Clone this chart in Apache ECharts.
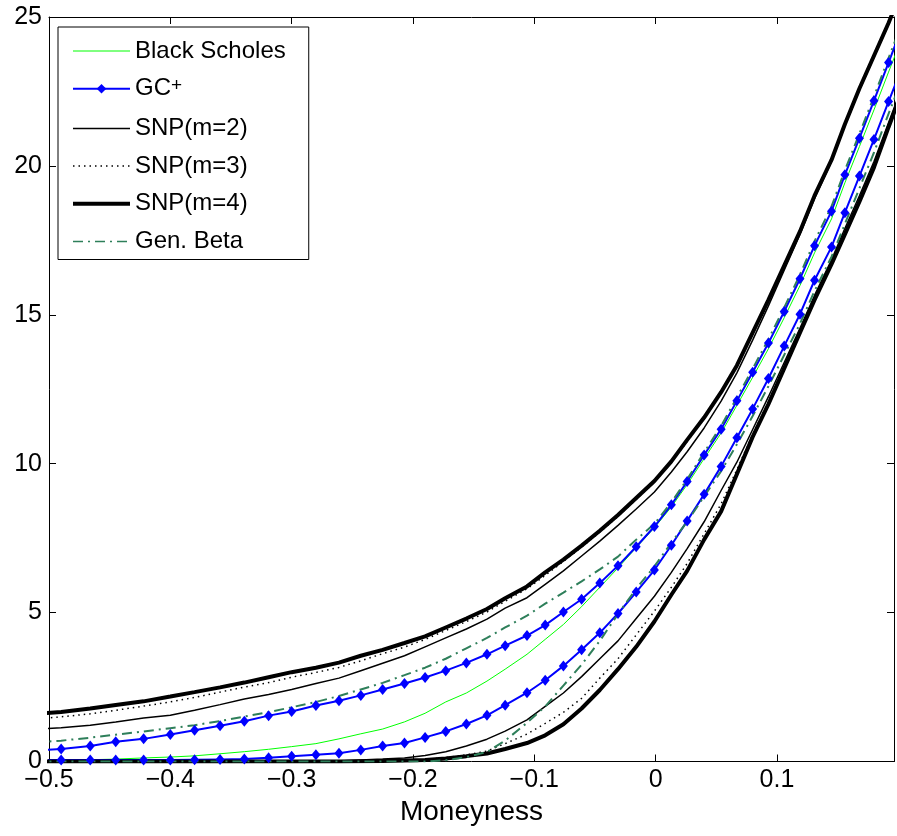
<!DOCTYPE html>
<html><head><meta charset="utf-8">
<script src="https://cdn.jsdelivr.net/npm/echarts@6/dist/echarts.min.js"></script>
<style>html,body{margin:0;padding:0;background:#fff}#c{width:897px;height:836px}</style>
</head><body><div id="c"></div>
<script>
// Moneyness grid (read from the GC+ marker positions)
const moneyness = [-0.512, -0.490, -0.466, -0.445, -0.422, -0.400, -0.380, -0.359, -0.339, -0.319, -0.300, -0.280, -0.261, -0.243, -0.225, -0.207, -0.190, -0.173, -0.156, -0.139, -0.124, -0.106, -0.091, -0.076, -0.061, -0.046, -0.031, -0.016, -0.001, 0.013, 0.026, 0.040, 0.054, 0.067, 0.080, 0.093, 0.106, 0.119, 0.131, 0.145, 0.156, 0.168, 0.180, 0.192, 0.204];

const blackScholes = [0.04, 0.05, 0.06, 0.08, 0.12, 0.15, 0.19, 0.26, 0.33, 0.41, 0.50, 0.60, 0.76, 0.93, 1.09, 1.33, 1.62, 2.00, 2.30, 2.70, 3.10, 3.60, 4.10, 4.60, 5.20, 5.85, 6.50, 7.18, 7.85, 8.55, 9.30, 10.17, 11.03, 11.96, 12.90, 13.86, 14.90, 15.98, 17.08, 18.22, 19.43, 20.65, 21.88, 23.15, 24.40];

const gcUpper = [0.37, 0.42, 0.52, 0.66, 0.76, 0.91, 1.05, 1.20, 1.35, 1.54, 1.68, 1.88, 2.04, 2.22, 2.42, 2.62, 2.82, 3.05, 3.31, 3.60, 3.89, 4.23, 4.58, 5.02, 5.45, 5.99, 6.57, 7.21, 7.89, 8.62, 9.40, 10.29, 11.16, 12.11, 13.07, 14.05, 15.11, 16.21, 17.32, 18.48, 19.70, 20.93, 22.19, 23.47, 24.75];
const gcLower = [0.05, 0.05, 0.05, 0.05, 0.05, 0.05, 0.06, 0.07, 0.08, 0.13, 0.18, 0.23, 0.28, 0.39, 0.52, 0.62, 0.81, 1.01, 1.26, 1.55, 1.89, 2.31, 2.73, 3.21, 3.75, 4.32, 4.97, 5.69, 6.43, 7.26, 8.08, 8.97, 9.91, 10.87, 11.84, 12.86, 13.95, 15.02, 16.16, 17.28, 18.43, 19.66, 20.89, 22.16, 23.40];

const snp2Upper = [1.08, 1.13, 1.22, 1.33, 1.46, 1.55, 1.72, 1.91, 2.10, 2.25, 2.42, 2.62, 2.80, 3.05, 3.30, 3.55, 3.85, 4.15, 4.45, 4.78, 5.15, 5.50, 5.95, 6.40, 6.90, 7.40, 7.93, 8.48, 9.05, 9.72, 10.40, 11.20, 12.10, 13.05, 14.15, 15.30, 16.50, 17.70, 18.90, 20.15, 21.35, 22.55, 23.65, 24.75, 25.95];
const snp2Lower = [0, 0, 0, 0, 0, 0, 0, 0, 0, 0, 0, 0, 0.02, 0.05, 0.08, 0.12, 0.20, 0.33, 0.52, 0.75, 1.02, 1.40, 1.85, 2.30, 2.85, 3.45, 4.05, 4.80, 5.55, 6.35, 7.15, 8.05, 9.10, 10.05, 11.15, 12.25, 13.40, 14.55, 15.65, 16.85, 17.90, 19.00, 20.15, 21.45, 22.75];

const snp3Upper = [1.42, 1.50, 1.60, 1.72, 1.86, 2.00, 2.15, 2.33, 2.50, 2.65, 2.83, 2.99, 3.16, 3.38, 3.62, 3.84, 4.10, 4.40, 4.70, 5.02, 5.38, 5.80, 6.25, 6.72, 7.20, 7.70, 8.23, 8.80, 9.38, 10.05, 10.75, 11.52, 12.37, 13.27, 14.37, 15.47, 16.62, 17.78, 18.98, 20.18, 21.38, 22.58, 23.68, 24.78, 25.98];
const snp3Lower = [0, 0, 0, 0, 0, 0, 0, 0, 0, 0, 0, 0, 0, 0, 0, 0.02, 0.07, 0.13, 0.22, 0.35, 0.60, 0.92, 1.28, 1.65, 2.12, 2.80, 3.45, 4.25, 5.05, 5.85, 6.65, 7.65, 8.65, 9.80, 10.98, 12.08, 13.28, 14.45, 15.55, 16.75, 17.78, 18.88, 20.03, 21.35, 22.65];

const snp4Upper = [1.60, 1.66, 1.78, 1.90, 2.02, 2.18, 2.33, 2.49, 2.65, 2.83, 3.00, 3.15, 3.32, 3.55, 3.75, 3.98, 4.20, 4.50, 4.80, 5.12, 5.48, 5.88, 6.35, 6.78, 7.25, 7.75, 8.28, 8.85, 9.42, 10.08, 10.80, 11.55, 12.40, 13.30, 14.40, 15.50, 16.65, 17.80, 19.00, 20.20, 21.40, 22.60, 23.70, 24.80, 26.00];
const snp4Lower = [0, 0, 0, 0, 0, 0, 0, 0, 0, 0, 0, 0, 0, 0.01, 0.02, 0.03, 0.05, 0.10, 0.18, 0.27, 0.42, 0.62, 0.88, 1.25, 1.78, 2.40, 3.10, 3.85, 4.70, 5.60, 6.40, 7.45, 8.40, 9.65, 10.90, 12.00, 13.20, 14.40, 15.50, 16.70, 17.70, 18.80, 19.95, 21.30, 22.60];

const genBetaUpper = [0.64, 0.70, 0.80, 0.90, 1.01, 1.12, 1.22, 1.36, 1.51, 1.66, 1.82, 2.00, 2.20, 2.42, 2.64, 2.90, 3.15, 3.45, 3.80, 4.15, 4.50, 4.90, 5.30, 5.67, 6.05, 6.45, 6.88, 7.45, 7.98, 8.70, 9.48, 10.38, 11.27, 12.22, 13.19, 14.18, 15.24, 16.35, 17.47, 18.64, 19.85, 21.08, 22.33, 23.62, 24.90];
const genBetaLower = [0, 0, 0, 0, 0, 0, 0, 0, 0, 0, 0, 0, 0, 0, 0, 0, 0, 0.04, 0.15, 0.32, 0.70, 1.30, 1.85, 2.55, 3.25, 4.05, 4.95, 5.80, 6.55, 7.35, 8.05, 8.90, 9.75, 10.65, 11.60, 12.60, 13.65, 14.70, 15.80, 16.95, 18.05, 19.25, 20.45, 21.75, 23.00];

const seriesNames = ['Black Scholes', 'GC+', 'SNP(m=2)', 'SNP(m=3)', 'SNP(m=4)', 'Gen. Beta'];
const xTicks = [-0.5, -0.4, -0.3, -0.2, -0.1, 0, 0.1];
const xTickLabels = ['\u22120.5', '\u22120.4', '\u22120.3', '\u22120.2', '\u22120.1', '0', '0.1'];
const yTicks = [0, 5, 10, 15, 20, 25];
const yTickLabels = ['0', '5', '10', '15', '20', '25'];
const xAxisTitle = 'Moneyness';

const FONT = '"Liberation Sans", Arial, Helvetica, sans-serif';
function pairs(ys) { return moneyness.map((x, i) => [x, ys[i]]); }
function xLabel(v) {
  for (let i = 0; i < xTicks.length; i++) if (Math.abs(v - xTicks[i]) < 1e-6) return xTickLabels[i];
  return '';
}
function yLabel(v) {
  for (let i = 0; i < yTicks.length; i++) if (Math.abs(v - yTicks[i]) < 1e-6) return yTickLabels[i];
  return '';
}

const styles = {
  'Black Scholes': { color: '#00ff00', width: 1, type: 'solid' },
  'GC+': { color: '#0000ff', width: 2, type: 'solid' },
  'SNP(m=2)': { color: '#000000', width: 1.5, type: 'solid' },
  'SNP(m=3)': { color: '#000000', width: 1.5, type: [1.5, 4] },
  'SNP(m=4)': { color: '#000000', width: 4, type: 'solid' },
  'Gen. Beta': { color: '#2e7f5a', width: 2, type: [10, 5, 2, 5] }
};
const dataSets = {
  'Black Scholes': [blackScholes],
  'GC+': [gcUpper, gcLower],
  'SNP(m=2)': [snp2Upper, snp2Lower],
  'SNP(m=3)': [snp3Upper, snp3Lower],
  'SNP(m=4)': [snp4Upper, snp4Lower],
  'Gen. Beta': [genBetaUpper, genBetaLower]
};

const series = [];
seriesNames.forEach(name => {
  const st = styles[name];
  dataSets[name].forEach(arr => {
    const isGC = name === 'GC+';
    series.push({
      name: name,
      type: 'line',
      data: pairs(arr),
      clip: true,
      smooth: false,
      symbol: isGC ? 'diamond' : 'none',
      symbolSize: isGC ? [9, 11] : 0,
      showSymbol: isGC,
      itemStyle: { color: st.color, borderWidth: 0 },
      lineStyle: { color: st.color, width: st.width, type: st.type, cap: 'butt' },
      emphasis: { disabled: true },
      animation: false
    });
  });
});

const legendData = seriesNames.map(n => {
  const st = styles[n];
  const item = { name: n, lineStyle: { color: st.color, width: n === 'SNP(m=4)' ? 4 : (n === 'Black Scholes' ? 1 : 1.5), type: st.type } };
  if (n !== 'GC+') item.itemStyle = { opacity: 0 };
  else item.lineStyle.width = 2;
  return item;
});

const axisLineStyle = { color: '#000', width: 1 };
const option = {
  animation: false,
  backgroundColor: '#ffffff',
  grid: { left: 49, right: 1, top: 17, bottom: 74.5, containLabel: false },
  xAxis: [
    {
      type: 'value', min: -0.5, max: 0.1965, interval: 0.1, position: 'bottom',
      axisLine: { show: true, onZero: false, lineStyle: axisLineStyle },
      axisTick: { show: true, inside: true, length: 7, lineStyle: axisLineStyle },
      splitLine: { show: false },
      axisLabel: { color: '#000', fontFamily: FONT, fontSize: 25, margin: 6, formatter: xLabel, showMaxLabel: true },
      name: xAxisTitle, nameLocation: 'middle', nameGap: 37,
      nameTextStyle: { color: '#000', fontFamily: FONT, fontSize: 28 }
    },
    {
      type: 'value', min: -0.5, max: 0.1965, interval: 0.1, position: 'top',
      axisLine: { show: true, onZero: false, lineStyle: axisLineStyle },
      axisTick: { show: true, inside: true, length: 7, lineStyle: axisLineStyle },
      splitLine: { show: false }, axisLabel: { show: false }
    }
  ],
  yAxis: [
    {
      type: 'value', min: 0, max: 25, interval: 5, position: 'left',
      axisLine: { show: true, onZero: false, lineStyle: axisLineStyle },
      axisTick: { show: true, inside: true, length: 7, lineStyle: axisLineStyle },
      splitLine: { show: false },
      axisLabel: { color: '#000', fontFamily: FONT, fontSize: 25, margin: 7, formatter: yLabel }
    },
    {
      type: 'value', min: 0, max: 25, interval: 5, position: 'right',
      axisLine: { show: true, onZero: false, lineStyle: axisLineStyle },
      axisTick: { show: true, inside: true, length: 7, lineStyle: axisLineStyle },
      splitLine: { show: false }, axisLabel: { show: false }
    }
  ],
  legend: {
    orient: 'vertical', left: 58, top: 27,
    data: legendData,
    itemWidth: 57, itemHeight: 12, itemGap: 13.7,
    padding: [12, 23, 6, 13],
    backgroundColor: '#ffffff', borderColor: '#000', borderWidth: 1, borderRadius: 0,
    selectedMode: false,
    textStyle: {
      color: '#000', fontFamily: FONT, fontSize: 24, lineHeight: 24,
      rich: {
        b: { color: '#000', fontFamily: FONT, fontSize: 24, lineHeight: 24 },
        sup: { color: '#000', fontFamily: FONT, fontSize: 19, lineHeight: 12, verticalAlign: 'top', padding: [0, 0, 7, 0] }
      }
    },
    formatter: function (name) { return name === 'GC+' ? '{b|GC}{sup|+}' : name; }
  },
  series: series
};

const chart = echarts.init(document.getElementById('c'), null, { renderer: 'canvas' });
chart.setOption(option);
</script>
</body></html>
